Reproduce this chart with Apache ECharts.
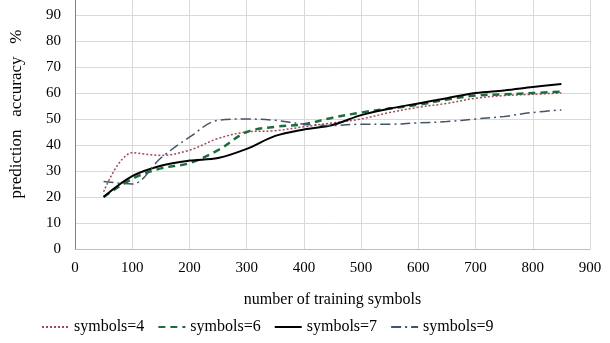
<!DOCTYPE html>
<html>
<head>
<meta charset="utf-8">
<script src="https://cdn.jsdelivr.net/npm/echarts@6/dist/echarts.min.js"></script>
<style>
  html, body { margin: 0; padding: 0; background: #fff; overflow: hidden; }
  #wrap { width: 610px; height: 343px; overflow: hidden; position: relative; }
  /* chart is taller and shifted up so the 100 line is cropped like the source */
  #main { width: 610px; height: 369px; position: absolute; top: -26px; left: 0; }
</style>
</head>
<body>
<div id="wrap"><div id="main"></div></div>
<script>
// training symbols on the x axis
var xValues = [50, 100, 150, 200, 250, 300, 350, 400, 450, 500, 550, 600, 650, 700, 750, 800, 850]
// accuracy %
var sym4 = [22, 37, 36, 38, 42.5, 45, 45.5, 47, 48.5, 50, 52.5, 54.5, 56, 58, 59, 59.5, 60]
var sym6 = [20, 27, 31, 33, 38, 45, 47, 48, 50.5, 52.5, 54, 55.5, 57.5, 59, 59.5, 60, 60.5]
var sym7 = [20, 28, 32, 34, 35, 38.5, 43.5, 46, 47.7, 51.5, 54, 56, 58, 60, 61, 62.3, 63.5]
var sym9 = [26, 25, 35, 43, 49.5, 50, 49.5, 48, 47.5, 48, 48, 48.5, 49, 50, 51, 52.5, 53.5]
var names = ['symbols=4', 'symbols=6', 'symbols=7', 'symbols=9']

var font = 'Liberation Serif'

function pairs(arr) {
    return xValues.map(function (x, i) { return [x, arr[i]] })
}

function line(name, arr, color, width, dash) {
    return {
        name: name,
        type: 'line',
        data: pairs(arr),
        smooth: 0.35,
        symbol: 'none',
        lineStyle: { color: color, width: width, type: dash },
        itemStyle: { color: color }
    }
}

var myChart = echarts.init(document.getElementById('main'))
var option = {
    animation: false,
    grid: { left: 74, right: 20, top: 15, bottom: 94 },
    legend: {
        data: names,
        bottom: 3,
        left: 36,
        itemWidth: 27,
        itemHeight: 10,
        itemGap: 13,
        itemStyle: { opacity: 0 },
        textStyle: { fontFamily: font, fontSize: 16, color: '#000' }
    },
    xAxis: {
        type: 'value',
        min: 0,
        max: 900,
        interval: 100,
        name: 'number of training symbols',
        nameLocation: 'middle',
        nameGap: 43,
        nameTextStyle: { fontFamily: font, fontSize: 16, color: '#000' },
        axisLine: { lineStyle: { color: '#bfbfbf' } },
        axisTick: { show: false },
        axisLabel: { fontFamily: font, fontSize: 15, color: '#000', margin: 12 },
        splitLine: { show: true, lineStyle: { color: '#d9d9d9' } }
    },
    yAxis: {
        type: 'value',
        min: 0,
        max: 100,
        interval: 10,
        name: 'prediction   accuracy   %',
        nameLocation: 'middle',
        nameGap: 50,
        nameTextStyle: { fontFamily: font, fontSize: 17, color: '#000', padding: [0, 0, 0, 10] },
        axisLine: { show: true, lineStyle: { color: '#808080' } },
        axisTick: { show: false },
        axisLabel: { fontFamily: font, fontSize: 15, color: '#000', margin: 14 },
        splitLine: { show: true, lineStyle: { color: '#d9d9d9' } }
    },
    series: [
        line(names[0], sym4, '#9e4a5a', 1.5, [2, 2]),
        line(names[1], sym6, '#1f6b3c', 2.5, [7, 5]),
        line(names[2], sym7, '#000000', 2, 'solid'),
        line(names[3], sym9, '#44546a', 1.5, [10, 4, 2, 4])
    ]
}
myChart.setOption(option)
</script>
</body>
</html>
